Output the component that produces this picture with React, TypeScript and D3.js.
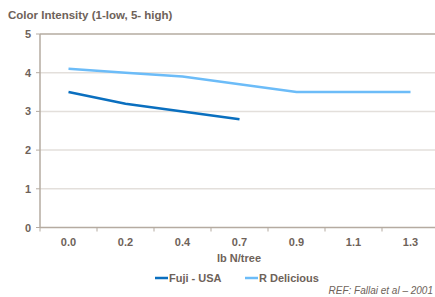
import React from "react";
import * as d3 from "d3";

const categories = ["0.0", "0.2", "0.4", "0.7", "0.9", "1.1", "1.3"];
const fujiValues = [3.5, 3.2, 3.0, 2.8];
const deliciousValues = [4.1, 4.0, 3.9, 3.7, 3.5, 3.5, 3.5];
const yTicks = [0, 1, 2, 3, 4, 5];
const seriesNames = ["Fuji - USA", "R Delicious"];

const W = 435, H = 297;
const left = 40, right = 439, top = 34, bottom = 227.5;
const textColor = "#6e6259";
const axisColor = "#b5aba1";
const gridColor = "#e3dfdb";
const colors = ["#0a6fbf", "#6cbcf8"];
const font = "'Liberation Sans', Arial, sans-serif";

export default function App() {
  const x = d3.scaleBand<string>().domain(categories).range([left, right]);
  const y = d3.scaleLinear().domain([0, 5]).range([bottom, top]);
  const line = d3
    .line<number>()
    .x((_, i) => (x(categories[i]) as number) + x.bandwidth() / 2)
    .y((d) => y(d));
  const series = [fujiValues, deliciousValues];
  return (
    <svg width={W} height={H} style={{ position: "absolute", left: 0, top: 0 }} fontFamily={font}>
      <text x={8} y={19} fontSize={11.5} fontWeight="bold" fill={textColor}>
        Color Intensity (1-low, 5- high)
      </text>
      {yTicks.map((t) => (
        <g key={t}>
          {t > 0 && t < 5 && (
            <line x1={left} x2={W} y1={y(t)} y2={y(t)} stroke={gridColor} strokeWidth={1.5} />
          )}
          <line x1={left - 4} x2={left} y1={y(t)} y2={y(t)} stroke={axisColor} />
          <text x={31} y={y(t) + 4} fontSize={11} fontWeight="bold" fill={textColor} textAnchor="end">
            {t}
          </text>
        </g>
      ))}
      <line x1={left} x2={W} y1={top} y2={top} stroke={axisColor} strokeWidth={1.5} />
      <line x1={left} x2={W} y1={bottom} y2={bottom} stroke={axisColor} strokeWidth={1.5} />
      <line x1={left} x2={left} y1={top} y2={bottom} stroke={axisColor} strokeWidth={1.5} />
      {categories.map((c) => (
        <g key={c}>
          <line
            x1={x(c) as number}
            x2={x(c) as number}
            y1={bottom}
            y2={bottom + 4}
            stroke={axisColor}
          />
          <text
            x={(x(c) as number) + x.bandwidth() / 2}
            y={246}
            fontSize={11}
            fontWeight="bold"
            fill={textColor}
            textAnchor="middle"
          >
            {c}
          </text>
        </g>
      ))}
      <text x={239} y={262} fontSize={11} fontWeight="bold" fill={textColor} textAnchor="middle">
        lb N/tree
      </text>
      {series.map((s, i) => (
        <path key={i} d={line(s) || ""} fill="none" stroke={colors[i]} strokeWidth={2.5} />
      ))}
      {seriesNames.map((n, i) => {
        const lx = i === 0 ? 155 : 245;
        return (
          <g key={n}>
            <line x1={lx} x2={lx + 13} y1={278} y2={278} stroke={colors[i]} strokeWidth={2.5} />
            <text x={lx + 14} y={282} fontSize={11} fontWeight="bold" fill={textColor}>
              {n}
            </text>
          </g>
        );
      })}
      <text x={433} y={294} fontSize={10} fontStyle="italic" fill={textColor} textAnchor="end">
        REF: Fallai et al – 2001
      </text>
    </svg>
  );
}
